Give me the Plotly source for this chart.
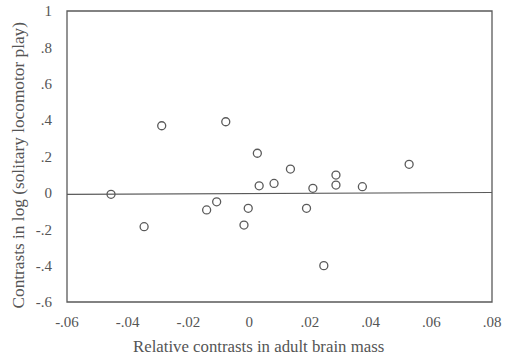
import plotly.graph_objects as go

# Data
brain_contrast = [-0.0455, -0.0346, -0.0288, -0.0077, 0.0027, -0.0140, -0.0107, -0.0003,
                  -0.0017, 0.0033, 0.0082, 0.0136, 0.0210, 0.0189, 0.0286, 0.0286,
                  0.0373, 0.0527, 0.0246]
play_contrast = [-0.008, -0.186, 0.369, 0.391, 0.218, -0.094, -0.049, -0.085,
                 -0.177, 0.039, 0.052, 0.131, 0.025, -0.085, 0.098, 0.043,
                 0.034, 0.157, -0.400]

fit_x = [-0.06, 0.08]
fit_y = [-0.008, 0.002]

x_tickvals = [-0.06, -0.04, -0.02, 0, 0.02, 0.04, 0.06, 0.08]
x_ticktext = ["-.06", "-.04", "-.02", "0", ".02", ".04", ".06", ".08"]
y_tickvals = [1, 0.8, 0.6, 0.4, 0.2, 0, -0.2, -0.4, -0.6]
y_ticktext = ["1", ".8", ".6", ".4", ".2", "0", "-.2", "-.4", "-.6"]

x_title = "Relative contrasts in adult brain mass"
y_title = "Contrasts in log (solitary locomotor play)"

ink = "#5a5a5a"
text_ink = "#555555"
font_family = "Liberation Serif, Times New Roman, serif"

fig = go.Figure()
fig.add_trace(go.Scatter(x=fit_x, y=fit_y, mode="lines",
                         line=dict(color=ink, width=1.2), hoverinfo="skip"))
fig.add_trace(go.Scatter(x=brain_contrast, y=play_contrast, mode="markers",
                         marker=dict(symbol="circle-open", size=8, color=ink,
                                     line=dict(width=1.3, color=ink))))

# frame around the plotting area
fig.add_shape(type="rect", xref="paper", yref="paper", x0=0, x1=1, y0=0, y1=1,
              line=dict(color=ink, width=1.3), layer="above")

# axis titles placed as annotations to match the reference placement
fig.add_annotation(text=x_title, xref="paper", yref="paper", x=0.4506, y=-0.1546,
                   xanchor="center", yanchor="middle", showarrow=False,
                   font=dict(size=16.8, color=text_ink, family=font_family))
fig.add_annotation(text=y_title, xref="paper", yref="paper", x=-0.1129, y=0.469,
                   xanchor="center", yanchor="middle", showarrow=False, textangle=-90,
                   font=dict(size=17.3, color=text_ink, family=font_family))

fig.update_layout(
    width=505, height=359,
    margin=dict(l=67, r=13, t=11, b=57, autoexpand=False),
    paper_bgcolor="white", plot_bgcolor="white",
    showlegend=False,
    font=dict(family=font_family, size=15, color=text_ink),
)
fig.update_xaxes(range=[-0.06, 0.08], tickvals=x_tickvals, ticktext=x_ticktext,
                 showgrid=False, zeroline=False, showline=False, automargin=False,
                 ticks="outside", ticklen=6, tickcolor="rgba(0,0,0,0)",
                 tickfont=dict(size=15))
fig.update_yaxes(range=[-0.6, 1], tickvals=y_tickvals, ticktext=y_ticktext,
                 showgrid=False, zeroline=False, showline=False, automargin=False,
                 ticks="outside", ticklen=11, tickcolor="rgba(0,0,0,0)",
                 tickfont=dict(size=15))

# remove the default 8px page margin so the figure sits at the window origin
fig.write_html("out.html", config={"displayModeBar": False},
               post_script="document.body.style.margin='0';document.body.style.overflow='hidden';")
